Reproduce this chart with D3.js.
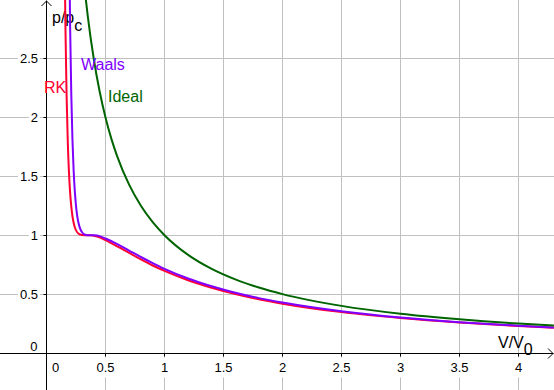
<!DOCTYPE html>
<html><head><meta charset="utf-8">
<script src="https://cdn.jsdelivr.net/npm/d3@7"></script>
<style>
html,body{margin:0;padding:0;background:#fff;}
svg{display:block;font-family:"Liberation Sans",Arial,sans-serif;}
</style></head>
<body><svg id="c" width="554" height="390"></svg>
<script>
// ---- data ----
const xTicks = [0.5, 1, 1.5, 2, 2.5, 3, 3.5, 4];
const xTickLabels = ["0.5", "1", "1.5", "2", "2.5", "3", "3.5", "4"];
const yTicks = [0.5, 1, 1.5, 2, 2.5];
const yTickLabels = ["0.5", "1", "1.5", "2", "2.5"];

// V/V0 and p/pc for each curve
const rkX = [0.15, 0.16, 0.17, 0.18, 0.19, 0.20, 0.21, 0.22, 0.23, 0.24, 0.26, 0.27, 0.285, 0.30, 0.333, 0.37, 0.42, 0.45, 0.5, 0.6, 0.7, 0.8, 0.9, 1.0, 1.2, 1.4, 1.6, 1.8, 2.0, 2.5, 3.0, 3.5, 4.0, 4.3];
const rkY = [3.740, 2.798, 2.198, 1.804, 1.542, 1.364, 1.244, 1.161, 1.106, 1.068, 1.025, 1.015, 1.006, 1.002, 1.000, 0.999, 0.991, 0.982, 0.958, 0.905, 0.849, 0.794, 0.743, 0.697, 0.618, 0.554, 0.500, 0.456, 0.419, 0.347, 0.297, 0.259, 0.229, 0.215];

const vdwX = [0.19, 0.20, 0.21, 0.22, 0.23, 0.24, 0.25, 0.26, 0.27, 0.28, 0.29, 0.30, 0.32, 0.35, 0.375, 0.40, 0.45, 0.5, 0.6, 0.7, 0.8, 0.9, 1.0, 1.2, 1.4, 1.6, 1.8, 2.0, 2.5, 3.0, 3.5, 4.0, 4.3];
const vdwY = [3.699, 2.786, 2.199, 1.810, 1.549, 1.372, 1.250, 1.166, 1.110, 1.071, 1.044, 1.027, 1.008, 1.000, 1.000, 0.999, 0.992, 0.972, 0.925, 0.870, 0.815, 0.763, 0.714, 0.632, 0.566, 0.511, 0.466, 0.428, 0.354, 0.301, 0.262, 0.232, 0.217];

const idealX = [0.33, 0.35, 0.4, 0.45, 0.5, 0.55, 0.6, 0.7, 0.8, 0.9, 1.0, 1.2, 1.4, 1.6, 1.8, 2.0, 2.5, 3.0, 3.5, 4.0, 4.3];
const idealY = [3.030, 2.857, 2.500, 2.222, 2.000, 1.818, 1.667, 1.429, 1.250, 1.111, 1.000, 0.833, 0.714, 0.625, 0.556, 0.500, 0.400, 0.333, 0.286, 0.250, 0.233];

const seriesNames = ["RK", "Waals", "Ideal"];
const seriesColors = ["#ff0033", "#7f00ff", "#006400"];

// ---- drawing ----
const W = 554, H = 390;
const svg = d3.select("#c");
const x = d3.scaleLinear().domain([0, 4]).range([46.5, 518.5]);
const y = d3.scaleLinear().domain([0, 3]).range([353, 353 - 3 * 117.8]);
const px = v => Math.round(x(v) - 0.5) + 0.5;
const py = v => Math.round(y(v) - 0.5) + 0.5;

const grid = "#c0c0c0";
svg.append("rect").attr("width", W).attr("height", H).attr("fill", "#fff");

// gridlines
svg.append("g").selectAll("line.v").data(xTicks).join("line")
  .attr("x1", d => px(d)).attr("x2", d => px(d)).attr("y1", 0).attr("y2", H)
  .attr("stroke", grid).attr("stroke-width", 1);
svg.append("g").selectAll("line.h").data(yTicks).join("line")
  .attr("y1", d => py(d)).attr("y2", d => py(d)).attr("x1", 0).attr("x2", W)
  .attr("stroke", grid).attr("stroke-width", 1);

// tick labels with white background
const lab = svg.append("g").attr("font-size", 13).attr("fill", "#000");
xTicks.forEach((t, i) => {
  const g = lab.append("g");
  const tx = g.append("text").attr("x", px(t)).attr("y", 371.5).attr("text-anchor", "middle").text(xTickLabels[i]);
  const b = tx.node().getBBox();
  g.insert("rect", "text").attr("x", b.x - 2).attr("y", b.y - 2).attr("width", b.width + 4).attr("height", b.height + 5).attr("fill", "#fff");
});
yTicks.forEach((t, i) => {
  const g = lab.append("g");
  const tx = g.append("text").attr("x", 38).attr("y", py(t) + 4.5).attr("text-anchor", "end").text(yTickLabels[i]);
  const b = tx.node().getBBox();
  g.insert("rect", "text").attr("x", b.x - 2).attr("y", b.y).attr("width", b.width + 4).attr("height", b.height).attr("fill", "#fff");
});
lab.append("text").attr("x", 37.5).attr("y", 351).attr("text-anchor", "end").text("0");
lab.append("text").attr("x", 52).attr("y", 371.5).text("0");

// axes
const ax = svg.append("g").attr("stroke", "#000").attr("stroke-width", 1).attr("fill", "none");
ax.append("line").attr("x1", 0).attr("x2", W - 0.5).attr("y1", py(0)).attr("y2", py(0));
ax.append("line").attr("x1", px(0)).attr("x2", px(0)).attr("y1", 0.5).attr("y2", H);
ax.append("path").attr("d", `M${W - 6},${py(0) - 5}L${W - 1},${py(0)}L${W - 6},${py(0) + 5}`);
ax.append("path").attr("d", `M${px(0) - 5},${6}L${px(0)},${1}L${px(0) + 5},${6}`);
xTicks.forEach(t => ax.append("line").attr("x1", px(t)).attr("x2", px(t)).attr("y1", py(0)).attr("y2", py(0) + 3));
yTicks.forEach(t => ax.append("line").attr("x1", px(0) - 3).attr("x2", px(0)).attr("y1", py(t)).attr("y2", py(t)));

// axis titles
const t1 = svg.append("text").attr("x", 52).attr("y", 23).attr("font-size", 16);
t1.append("tspan").text("p/p");
t1.append("tspan").attr("dy", 8).attr("font-size", 16).text("c");
const t2 = svg.append("text").attr("x", 498).attr("y", 348).attr("font-size", 16);
t2.append("tspan").text("V/V");
t2.append("tspan").attr("dy", 7).attr("font-size", 16).text("0");

// curves
svg.append("defs").append("clipPath").attr("id", "clip")
  .append("rect").attr("x", 0).attr("y", 0).attr("width", W).attr("height", H);
const line = d3.line().x(d => x(d[0])).y(d => y(d[1])).curve(d3.curveMonotoneX);
const series = [
  d3.zip(rkX, rkY),
  d3.zip(vdwX, vdwY),
  d3.zip(idealX, idealY)
];
const cg = svg.append("g").attr("clip-path", "url(#clip)");
series.forEach((s, i) => {
  cg.append("path").datum(s).attr("d", line).attr("fill", "none")
    .attr("stroke", seriesColors[i]).attr("stroke-width", 2).attr("stroke-linejoin", "round");
});

// curve labels
const labelPos = [[44, 93], [81, 70], [108, 102]];
seriesNames.forEach((n, i) => {
  svg.append("text").attr("x", labelPos[i][0]).attr("y", labelPos[i][1]).attr("font-size", 16)
    .attr("fill", seriesColors[i]).text(n);
});
</script></body></html>
